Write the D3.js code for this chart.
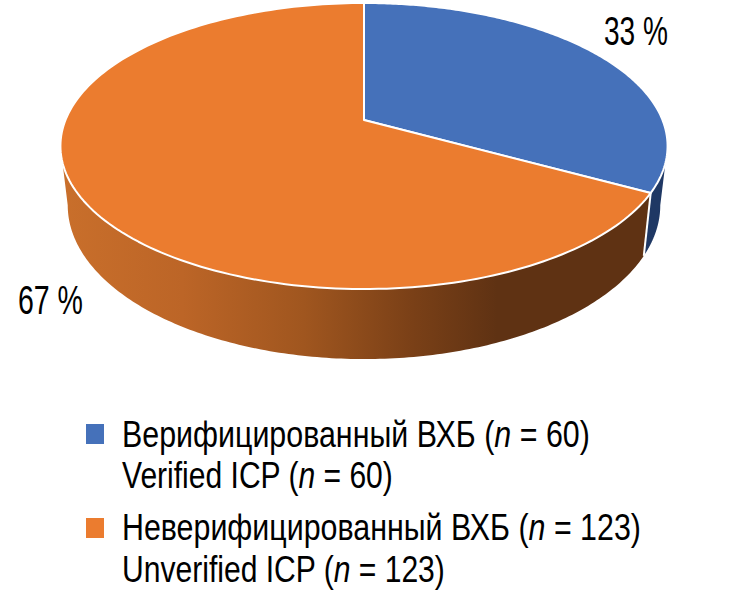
<!DOCTYPE html>
<html><head><meta charset="utf-8">
<script src="https://cdn.jsdelivr.net/npm/d3@7"></script>
<style>html,body{margin:0;padding:0;background:#fff}svg{display:block}text{font-family:"Liberation Sans Narrow","Liberation Sans",sans-serif;fill:#000}</style>
</head><body><svg id="c" width="729" height="594"></svg>
<script>
const categories = ["Verified", "Unverified"];
const shares = [33, 67];
const shareLabels = ["33 %", "67 %"];
const colors = ["#4571BA", "#EB7C2F"];
const legendLines = [
  [["Верифицированный ВХБ (",0],["n",1],[" = 60)",0]],
  [["Verified ICP (",0],["n",1],[" = 60)",0]],
  [["Неверифицированный ВХБ (",0],["n",1],[" = 123)",0]],
  [["Unverified ICP (",0],["n",1],[" = 123)",0]]
];
const svg = d3.select("#c");
const cx = 364, cy = 120, A = 298.5, B = 138.3, k = 0.1818, H = 57.3, shrink = 0.976;
const proj = t => { const u = Math.sin(t), v = -Math.cos(t), w = 1 - k*v;
  return [cx + A*u/w, cy + B*v/w]; };
const projLow = t => { const v = -Math.cos(t), w = 1 - k*v, p = proj(t);
  return [cx + (p[0]-cx)*shrink, p[1] + H/w]; };
const samples = (a,b) => d3.range(0,181).map(i => a + (b-a)*i/180);
const line = d3.line();
const arcs = d3.pie().sort(null)(shares);
const defs = svg.append("defs");
const grad = defs.append("linearGradient").attr("id","wall").attr("gradientUnits","userSpaceOnUse")
  .attr("x1",61).attr("x2",667).attr("y1",0).attr("y2",0);
[[0,"#C96F2B"],[0.2,"#BC6527"],[0.4,"#A0561F"],[0.58,"#7A4017"],[0.72,"#5F3213"],[1,"#5F3213"]]
  .forEach(d => grad.append("stop").attr("offset",d[0]).attr("stop-color",d[1]));
const silR = Math.PI - Math.acos(k), silL = Math.PI + Math.acos(k);
// side walls
const wall = (a,b) => { const s = samples(a,b);
  return line(s.map(proj).concat(s.slice().reverse().map(projLow))) + "Z"; };
svg.append("path").attr("d",wall(silR,arcs[0].endAngle)).attr("fill","#1F3864");
svg.append("path").attr("d",wall(arcs[1].startAngle,silL)).attr("fill","url(#wall)");
svg.append("path").attr("d",line([proj(arcs[0].endAngle),projLow(arcs[0].endAngle)]))
  .attr("stroke","#fff").attr("stroke-width",2).attr("fill","none");
// top faces
arcs.forEach((d,i) => {
  const pts = [[cx,cy]].concat(samples(d.startAngle,d.endAngle).map(proj));
  svg.append("path").attr("d",line(pts)+"Z").attr("fill",colors[i]).attr("stroke","#fff").attr("stroke-width",2).attr("stroke-linejoin","round");
});
// fit a text to its measured width by a horizontal scale
const fit = (t,x0,x1,y) => { const len = t.node().getComputedTextLength();
  t.attr("transform",`translate(${x0},${y}) scale(${(x1-x0)/len},1)`); };
// labels
const labelPos = [[604,668,45],[18,83,314]];
shareLabels.forEach((s,i) => { const t = svg.append("text").attr("font-size",40).text(s);
  fit(t,labelPos[i][0],labelPos[i][1],labelPos[i][2]); });
// legend
const legendY = [447,488,540,582], legendEnd = [590,393,641,445];
legendLines.forEach((parts,i) => {
  const t = svg.append("text").attr("font-size",37);
  parts.forEach(p => t.append("tspan").attr("font-style",p[1]?"italic":"normal").text(p[0]));
  fit(t,122,legendEnd[i],legendY[i]);
});
categories.forEach((c,i) => svg.append("rect").attr("x",86).attr("y",[424,518][i]).attr("width",18).attr("height",20).attr("fill",colors[i]));
</script></body></html>
